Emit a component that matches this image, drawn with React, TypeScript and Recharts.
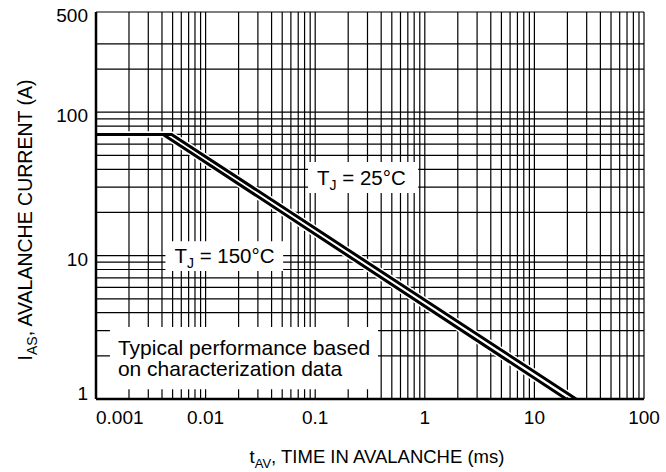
import { Line, LineChart, ReferenceArea, ReferenceLine, XAxis, YAxis } from "recharts";

const FONT = "'Liberation Sans', Arial, Helvetica, sans-serif";

// axis ticks (log scales)
const xTicks = [0.001, 0.01, 0.1, 1, 10, 100];
const yTicks = [1, 10, 100, 500];

// grid lines of the log paper
const xGrid = [
  0.001, 0.002, 0.003, 0.004, 0.005, 0.006, 0.007, 0.008, 0.009,
  0.01, 0.02, 0.03, 0.04, 0.05, 0.06, 0.07, 0.08, 0.09,
  0.1, 0.2, 0.3, 0.4, 0.5, 0.6, 0.7, 0.8, 0.9,
  1, 2, 3, 4, 5, 6, 7, 8, 9,
  10, 20, 30, 40, 50, 60, 70, 80, 90, 100
];
const yGrid = [2, 3, 4, 5, 6, 7, 8, 9, 10, 20, 30, 40, 50, 60, 70, 80, 90, 100, 200, 300, 500];

// avalanche current vs time in avalanche
const tj25 = [
  { x: 0.001, y: 70 },
  { x: 0.0049, y: 70 },
  { x: 24, y: 1 }
];
const tj150 = [
  { x: 0.001, y: 70 },
  { x: 0.0041, y: 70 },
  { x: 19.5, y: 1 }
];

const label25 = "25°C";
const label150 = "150°C";
const noteLines = ["Typical performance based", "on characterization data"];

function XTick({ x, y, payload, index }: any) {
  const first = index === 0;
  return (
    <text x={x} y={y} dy={17} textAnchor={first ? "start" : "middle"} fontSize={19} fontFamily={FONT} fill="#000">
      {payload.value}
    </text>
  );
}

function YTick({ x, y, payload }: any) {
  const shift = payload.value === 1 ? -6 : 3;
  return (
    <text x={x} y={y + shift} dy={7} textAnchor="end" fontSize={19} fontFamily={FONT} fill="#000">
      {payload.value}
    </text>
  );
}

function XTitle() {
  return (
    <text x={377} y={463} textAnchor="middle" fontSize={18.5} fontFamily={FONT} fill="#000">
      t<tspan fontSize={13} dy={5}>AV</tspan>
      <tspan dy={-5}>, TIME IN AVALANCHE (ms)</tspan>
    </text>
  );
}

function YTitle() {
  const cx = 32;
  const cy = 220;
  return (
    <text x={cx} y={cy} transform={`rotate(-90, ${cx}, ${cy})`} textAnchor="middle" fontSize={19.5} fontFamily={FONT} fill="#000">
      I<tspan fontSize={14} dy={5}>AS</tspan>
      <tspan dy={-5}>, AVALANCHE CURRENT (A)</tspan>
    </text>
  );
}

const tjLabel = (temp: string) => ({ viewBox }: any) => (
  <text x={viewBox.x + 9} y={viewBox.y + viewBox.height - 8} fontSize={20.5} fontFamily={FONT} fill="#000">
    T<tspan fontSize={14} dy={5}>J</tspan>
    <tspan dy={-5}>{` = ${temp}`}</tspan>
  </text>
);

const noteLabel = ({ viewBox }: any) => (
  <text x={viewBox.x + 8} y={viewBox.y + 28} fontSize={21} fontFamily={FONT} fill="#000">
    <tspan x={viewBox.x + 8}>{noteLines[0]}</tspan>
    <tspan x={viewBox.x + 8} dy={21}>{noteLines[1]}</tspan>
  </text>
);

export default function App() {
  return (
    <div style={{ position: "absolute", left: 0, top: 0, background: "#fff" }}>
      <LineChart width={666} height={472} margin={{ top: 12, right: 22, bottom: 13, left: 36 }}>
        <XAxis
          dataKey="x"
          type="number"
          scale="log"
          domain={[0.001, 100]}
          ticks={xTicks}
          allowDataOverflow
          height={60}
          tickLine={false}
          tickSize={6}
          tickMargin={2}
          axisLine={{ stroke: "#000", strokeWidth: 2.5 }}
          tick={XTick}
          label={{ content: XTitle }}
        />
        <YAxis
          dataKey="y"
          type="number"
          scale="log"
          domain={[1, 500]}
          ticks={yTicks}
          allowDataOverflow
          width={60}
          tickLine={false}
          tickSize={6}
          tickMargin={2}
          axisLine={{ stroke: "#000", strokeWidth: 2.5 }}
          tick={YTick}
          label={{ content: YTitle }}
        />
        {xGrid.map((v) => (
          <ReferenceLine key={`gx${v}`} x={v} stroke="#000" strokeWidth={1.2} ifOverflow="visible" zIndex={-50} />
        ))}
        {yGrid.map((v) => (
          <ReferenceLine key={`gy${v}`} y={v} stroke="#000" strokeWidth={1.2} ifOverflow="visible" zIndex={-50} />
        ))}
        <ReferenceArea x1={0.086} x2={0.87} y1={27.3} y2={45} fill="#fff" fillOpacity={1} stroke="none" zIndex={50} label={{ content: tjLabel(label25) }} />
        <ReferenceArea x1={0.0043} x2={0.051} y1={7.8} y2={12.6} fill="#fff" fillOpacity={1} stroke="none" zIndex={50} label={{ content: tjLabel(label150) }} />
        <ReferenceArea x1={0.00134} x2={0.374} y1={1.17} y2={3.18} fill="#fff" fillOpacity={1} stroke="none" zIndex={50} label={{ content: noteLabel }} />
        <Line data={tj25} dataKey="y" stroke="#fff" strokeWidth={6} dot={false} isAnimationActive={false} />
        <Line data={tj150} dataKey="y" stroke="#fff" strokeWidth={6} dot={false} isAnimationActive={false} />
        <Line data={tj25} dataKey="y" stroke="#000" strokeWidth={3} dot={false} isAnimationActive={false} />
        <Line data={tj150} dataKey="y" stroke="#000" strokeWidth={3} dot={false} isAnimationActive={false} />
      </LineChart>
    </div>
  );
}
